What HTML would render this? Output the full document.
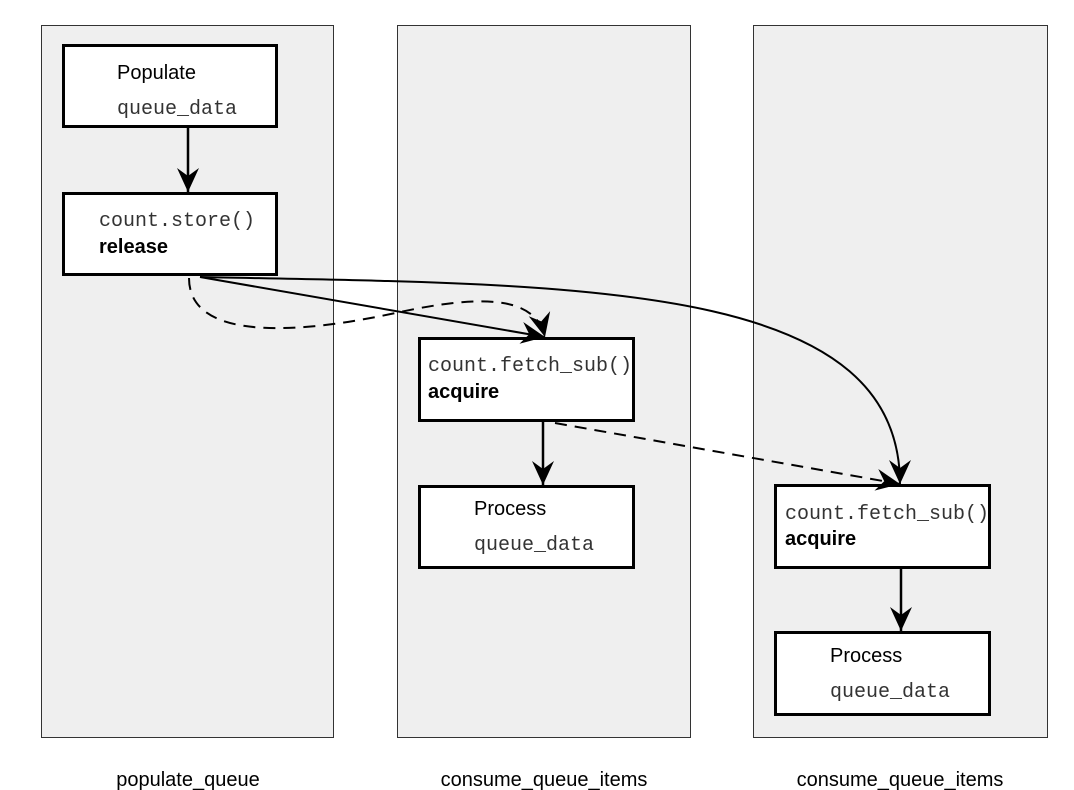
<!DOCTYPE html>
<html><head><meta charset="utf-8"><style>
html,body{margin:0;padding:0;background:#fff}
svg{display:block}
.s{font-family:"Liberation Sans",sans-serif;font-size:20px;fill:#000}
.b{font-family:"Liberation Sans",sans-serif;font-size:20px;font-weight:bold;fill:#000}
.m{font-family:"Liberation Mono",monospace;font-size:20px;fill:#333}
</style></head><body>
<svg width="1074" height="790" viewBox="0 0 1074 790" xmlns="http://www.w3.org/2000/svg">
<defs>
<marker id="a" markerWidth="30" markerHeight="30" refX="24" refY="12" orient="auto" markerUnits="userSpaceOnUse">
<path d="M0,1 L24,12 L0,23 L8,12 Z" fill="#000"/>
</marker>
</defs>
<g fill="#efefef" stroke="#333" stroke-width="1">
<rect x="41.5" y="25.5" width="292" height="712"/>
<rect x="397.5" y="25.5" width="293" height="712"/>
<rect x="753.5" y="25.5" width="294" height="712"/>
</g>
<g fill="#fff" stroke="#000" stroke-width="3">
<rect x="63.5" y="45.5" width="213" height="81"/>
<rect x="63.5" y="193.5" width="213" height="81"/>
<rect x="419.5" y="338.5" width="214" height="82"/>
<rect x="419.5" y="486.5" width="214" height="81"/>
<rect x="775.5" y="485.5" width="214" height="82"/>
<rect x="775.5" y="632.5" width="214" height="82"/>
</g>
<text class="s" x="117" y="79">Populate</text>
<text class="m" x="117" y="114">queue_data</text>
<text class="m" x="99" y="226">count.store()</text>
<text class="b" x="99" y="253">release</text>
<text class="m" x="428" y="371">count.fetch_sub()</text>
<text class="b" x="428" y="398">acquire</text>
<text class="s" x="474" y="515">Process</text>
<text class="m" x="474" y="550">queue_data</text>
<text class="m" x="785" y="519">count.fetch_sub()</text>
<text class="b" x="785" y="545">acquire</text>
<text class="s" x="830" y="662">Process</text>
<text class="m" x="830" y="697">queue_data</text>
<text class="s" x="188" y="786" text-anchor="middle">populate_queue</text>
<text class="s" x="544" y="786" text-anchor="middle">consume_queue_items</text>
<text class="s" x="900" y="786" text-anchor="middle">consume_queue_items</text>
<g fill="none" stroke="#000" stroke-width="2.5">
<line x1="188" y1="127" x2="188" y2="192" marker-end="url(#a)"/>
<line x1="543" y1="421" x2="543" y2="485" marker-end="url(#a)"/>
<line x1="901" y1="568" x2="901" y2="631" marker-end="url(#a)"/>
<line x1="200" y1="277" x2="545" y2="337" stroke-width="2" marker-end="url(#a)"/>
<path d="M200,277 C580,285 900,280 900,484" stroke-width="2" marker-end="url(#a)"/>
<path d="M189,278 C189,345 310,332 400,312 C480,295 535,295 545,337" stroke-width="2" stroke-dasharray="12,8" marker-end="url(#a)"/>
<line x1="555" y1="423" x2="900" y2="484" stroke-width="2" stroke-dasharray="12,8" marker-end="url(#a)"/>
</g>
</svg>
</body></html>
